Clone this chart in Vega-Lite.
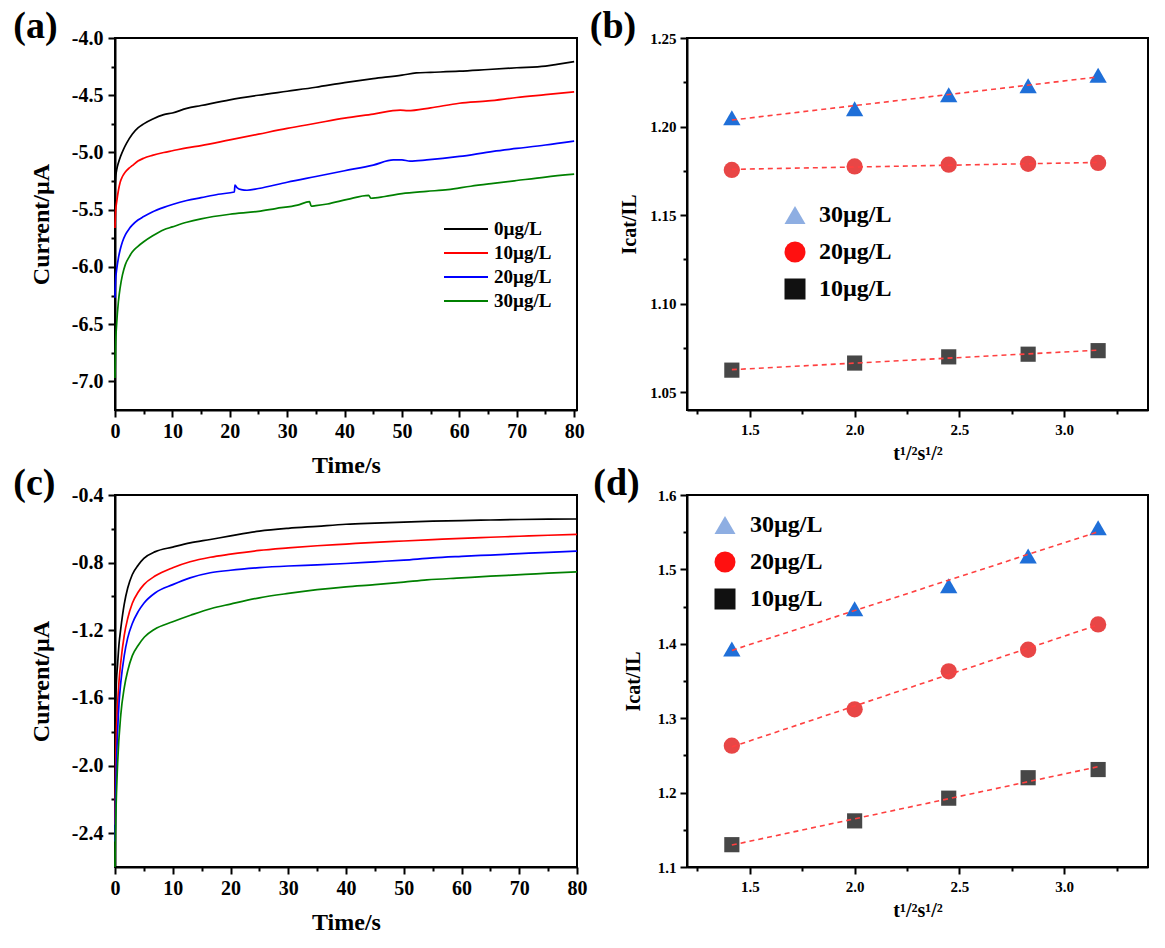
{
  "$schema": "https://vega.github.io/schema/vega-lite/v6.json",
  "background": "white",
  "padding": {"left": 12, "top": 7, "right": 5, "bottom": 5},
  "config": {
    "font": "Liberation Serif",
    "view": {"stroke": "black", "strokeWidth": 2},
    "axis": {"domainColor": "black", "domainWidth": 2, "tickColor": "black", "tickWidth": 2, "labelColor": "black", "titleColor": "black", "labelFont": "Liberation Serif", "titleFont": "Liberation Serif", "labelFontWeight": "bold", "titleFontWeight": "bold", "grid": false, "labelFlush": false, "labelOverlap": false},
    "legend": {"labelFont": "Liberation Serif", "labelFontWeight": "bold", "labelColor": "black", "padding": 0},
    "title": {"font": "Liberation Serif", "fontWeight": "bold", "color": "black", "fontSize": 38, "anchor": "start", "frame": "bounds", "baseline": "alphabetic"}
  },
  "datasets": {
    "a": [
      {"t":0,"v":-5.32,"s":"0µg/L"},{"t":0.15,"v":-5.2,"s":"0µg/L"},{"t":0.3,"v":-5.15,"s":"0µg/L"},{"t":0.6,"v":-5.09,"s":"0µg/L"},{"t":1.0,"v":-5.03,"s":"0µg/L"},{"t":1.5,"v":-4.97,"s":"0µg/L"},{"t":2.0,"v":-4.92,"s":"0µg/L"},{"t":3.0,"v":-4.84,"s":"0µg/L"},{"t":4.0,"v":-4.785,"s":"0µg/L"},{"t":5.0,"v":-4.75,"s":"0µg/L"},{"t":6.5,"v":-4.71,"s":"0µg/L"},{"t":8.5,"v":-4.67,"s":"0µg/L"},{"t":10,"v":-4.655,"s":"0µg/L"},{"t":12.5,"v":-4.615,"s":"0µg/L"},{"t":15,"v":-4.59,"s":"0µg/L"},{"t":20,"v":-4.54,"s":"0µg/L"},{"t":25,"v":-4.5,"s":"0µg/L"},{"t":30,"v":-4.465,"s":"0µg/L"},{"t":35,"v":-4.43,"s":"0µg/L"},{"t":40,"v":-4.39,"s":"0µg/L"},{"t":45,"v":-4.355,"s":"0µg/L"},{"t":50,"v":-4.325,"s":"0µg/L"},{"t":52.5,"v":-4.305,"s":"0µg/L"},{"t":55,"v":-4.3,"s":"0µg/L"},{"t":60,"v":-4.29,"s":"0µg/L"},{"t":65,"v":-4.275,"s":"0µg/L"},{"t":70,"v":-4.26,"s":"0µg/L"},{"t":75,"v":-4.245,"s":"0µg/L"},{"t":77,"v":-4.23,"s":"0µg/L"},{"t":80,"v":-4.206,"s":"0µg/L"},
      {"t":0,"v":-5.66,"s":"10µg/L"},{"t":0.1,"v":-5.52,"s":"10µg/L"},{"t":0.3,"v":-5.43,"s":"10µg/L"},{"t":0.6,"v":-5.33,"s":"10µg/L"},{"t":0.9,"v":-5.26,"s":"10µg/L"},{"t":1.3,"v":-5.21,"s":"10µg/L"},{"t":1.8,"v":-5.17,"s":"10µg/L"},{"t":2.5,"v":-5.135,"s":"10µg/L"},{"t":3.0,"v":-5.115,"s":"10µg/L"},{"t":4.0,"v":-5.075,"s":"10µg/L"},{"t":5.0,"v":-5.05,"s":"10µg/L"},{"t":6.5,"v":-5.025,"s":"10µg/L"},{"t":8.5,"v":-5.0,"s":"10µg/L"},{"t":10,"v":-4.985,"s":"10µg/L"},{"t":12.5,"v":-4.96,"s":"10µg/L"},{"t":15,"v":-4.94,"s":"10µg/L"},{"t":20,"v":-4.89,"s":"10µg/L"},{"t":25,"v":-4.84,"s":"10µg/L"},{"t":30,"v":-4.79,"s":"10µg/L"},{"t":35,"v":-4.745,"s":"10µg/L"},{"t":40,"v":-4.7,"s":"10µg/L"},{"t":45,"v":-4.665,"s":"10µg/L"},{"t":49.7,"v":-4.63,"s":"10µg/L"},{"t":51,"v":-4.635,"s":"10µg/L"},{"t":55,"v":-4.61,"s":"10µg/L"},{"t":60,"v":-4.57,"s":"10µg/L"},{"t":65,"v":-4.55,"s":"10µg/L"},{"t":70,"v":-4.52,"s":"10µg/L"},{"t":75,"v":-4.495,"s":"10µg/L"},{"t":80,"v":-4.47,"s":"10µg/L"},
      {"t":0,"v":-6.27,"s":"20µg/L"},{"t":0.1,"v":-6.12,"s":"20µg/L"},{"t":0.3,"v":-6.02,"s":"20µg/L"},{"t":0.6,"v":-5.92,"s":"20µg/L"},{"t":0.9,"v":-5.85,"s":"20µg/L"},{"t":1.3,"v":-5.78,"s":"20µg/L"},{"t":1.8,"v":-5.72,"s":"20µg/L"},{"t":2.5,"v":-5.665,"s":"20µg/L"},{"t":3.0,"v":-5.635,"s":"20µg/L"},{"t":4.0,"v":-5.59,"s":"20µg/L"},{"t":5.0,"v":-5.56,"s":"20µg/L"},{"t":6.5,"v":-5.52,"s":"20µg/L"},{"t":8.5,"v":-5.48,"s":"20µg/L"},{"t":10,"v":-5.455,"s":"20µg/L"},{"t":12.5,"v":-5.42,"s":"20µg/L"},{"t":15,"v":-5.395,"s":"20µg/L"},{"t":18,"v":-5.365,"s":"20µg/L"},{"t":20.8,"v":-5.345,"s":"20µg/L"},{"t":20.9,"v":-5.285,"s":"20µg/L"},{"t":21.3,"v":-5.31,"s":"20µg/L"},{"t":22,"v":-5.325,"s":"20µg/L"},{"t":23,"v":-5.33,"s":"20µg/L"},{"t":25,"v":-5.315,"s":"20µg/L"},{"t":30,"v":-5.26,"s":"20µg/L"},{"t":35,"v":-5.21,"s":"20µg/L"},{"t":40,"v":-5.16,"s":"20µg/L"},{"t":45,"v":-5.11,"s":"20µg/L"},{"t":48.5,"v":-5.065,"s":"20µg/L"},{"t":50,"v":-5.065,"s":"20µg/L"},{"t":51.4,"v":-5.075,"s":"20µg/L"},{"t":54.3,"v":-5.065,"s":"20µg/L"},{"t":60,"v":-5.035,"s":"20µg/L"},{"t":65.9,"v":-4.99,"s":"20µg/L"},{"t":70,"v":-4.965,"s":"20µg/L"},{"t":75,"v":-4.935,"s":"20µg/L"},{"t":80,"v":-4.9,"s":"20µg/L"},
      {"t":0,"v":-6.97,"s":"30µg/L"},{"t":0.1,"v":-6.7,"s":"30µg/L"},{"t":0.3,"v":-6.49,"s":"30µg/L"},{"t":0.6,"v":-6.3,"s":"30µg/L"},{"t":0.9,"v":-6.18,"s":"30µg/L"},{"t":1.3,"v":-6.07,"s":"30µg/L"},{"t":1.8,"v":-5.98,"s":"30µg/L"},{"t":2.5,"v":-5.91,"s":"30µg/L"},{"t":3.0,"v":-5.87,"s":"30µg/L"},{"t":4.0,"v":-5.82,"s":"30µg/L"},{"t":5.0,"v":-5.78,"s":"30µg/L"},{"t":6.5,"v":-5.73,"s":"30µg/L"},{"t":8.5,"v":-5.675,"s":"30µg/L"},{"t":10,"v":-5.65,"s":"30µg/L"},{"t":12.5,"v":-5.61,"s":"30µg/L"},{"t":15,"v":-5.58,"s":"30µg/L"},{"t":20,"v":-5.54,"s":"30µg/L"},{"t":25,"v":-5.515,"s":"30µg/L"},{"t":28,"v":-5.49,"s":"30µg/L"},{"t":31.8,"v":-5.46,"s":"30µg/L"},{"t":33.9,"v":-5.43,"s":"30µg/L"},{"t":34.2,"v":-5.47,"s":"30µg/L"},{"t":35,"v":-5.465,"s":"30µg/L"},{"t":37,"v":-5.45,"s":"30µg/L"},{"t":40.5,"v":-5.41,"s":"30µg/L"},{"t":44.2,"v":-5.375,"s":"30µg/L"},{"t":44.6,"v":-5.4,"s":"30µg/L"},{"t":47,"v":-5.385,"s":"30µg/L"},{"t":50,"v":-5.36,"s":"30µg/L"},{"t":54.3,"v":-5.34,"s":"30µg/L"},{"t":58,"v":-5.325,"s":"30µg/L"},{"t":62,"v":-5.295,"s":"30µg/L"},{"t":65.9,"v":-5.27,"s":"30µg/L"},{"t":70,"v":-5.245,"s":"30µg/L"},{"t":75,"v":-5.215,"s":"30µg/L"},{"t":80,"v":-5.19,"s":"30µg/L"}
    ],
    "c": [
      {"t":0,"v":-1.8,"s":"0µg/L"},{"t":0.1,"v":-1.65,"s":"0µg/L"},{"t":0.25,"v":-1.5,"s":"0µg/L"},{"t":0.45,"v":-1.4,"s":"0µg/L"},{"t":0.7,"v":-1.28,"s":"0µg/L"},{"t":1.0,"v":-1.19,"s":"0µg/L"},{"t":1.6,"v":-1.045,"s":"0µg/L"},{"t":2.2,"v":-0.95,"s":"0µg/L"},{"t":3.0,"v":-0.87,"s":"0µg/L"},{"t":4.0,"v":-0.815,"s":"0µg/L"},{"t":5.0,"v":-0.775,"s":"0µg/L"},{"t":7,"v":-0.735,"s":"0µg/L"},{"t":10,"v":-0.708,"s":"0µg/L"},{"t":13,"v":-0.683,"s":"0µg/L"},{"t":16.5,"v":-0.663,"s":"0µg/L"},{"t":20,"v":-0.642,"s":"0µg/L"},{"t":25,"v":-0.614,"s":"0µg/L"},{"t":30,"v":-0.597,"s":"0µg/L"},{"t":35,"v":-0.585,"s":"0µg/L"},{"t":40,"v":-0.573,"s":"0µg/L"},{"t":45,"v":-0.566,"s":"0µg/L"},{"t":50,"v":-0.56,"s":"0µg/L"},{"t":55,"v":-0.555,"s":"0µg/L"},{"t":60,"v":-0.551,"s":"0µg/L"},{"t":65,"v":-0.548,"s":"0µg/L"},{"t":70,"v":-0.545,"s":"0µg/L"},{"t":75,"v":-0.543,"s":"0µg/L"},{"t":80,"v":-0.542,"s":"0µg/L"},
      {"t":0,"v":-2.35,"s":"10µg/L"},{"t":0.1,"v":-2.05,"s":"10µg/L"},{"t":0.2,"v":-1.86,"s":"10µg/L"},{"t":0.45,"v":-1.64,"s":"10µg/L"},{"t":0.7,"v":-1.5,"s":"10µg/L"},{"t":1.0,"v":-1.39,"s":"10µg/L"},{"t":1.6,"v":-1.23,"s":"10µg/L"},{"t":2.2,"v":-1.13,"s":"10µg/L"},{"t":3.0,"v":-1.04,"s":"10µg/L"},{"t":4.0,"v":-0.975,"s":"10µg/L"},{"t":5.0,"v":-0.93,"s":"10µg/L"},{"t":7,"v":-0.878,"s":"10µg/L"},{"t":10,"v":-0.83,"s":"10µg/L"},{"t":13,"v":-0.795,"s":"10µg/L"},{"t":16.5,"v":-0.768,"s":"10µg/L"},{"t":20,"v":-0.75,"s":"10µg/L"},{"t":25,"v":-0.728,"s":"10µg/L"},{"t":30,"v":-0.713,"s":"10µg/L"},{"t":35,"v":-0.7,"s":"10µg/L"},{"t":40,"v":-0.69,"s":"10µg/L"},{"t":45,"v":-0.68,"s":"10µg/L"},{"t":50,"v":-0.672,"s":"10µg/L"},{"t":55,"v":-0.664,"s":"10µg/L"},{"t":60,"v":-0.656,"s":"10µg/L"},{"t":65,"v":-0.65,"s":"10µg/L"},{"t":70,"v":-0.644,"s":"10µg/L"},{"t":75,"v":-0.638,"s":"10µg/L"},{"t":80,"v":-0.633,"s":"10µg/L"},
      {"t":0,"v":-2.45,"s":"20µg/L"},{"t":0.1,"v":-2.2,"s":"20µg/L"},{"t":0.2,"v":-2.05,"s":"20µg/L"},{"t":0.45,"v":-1.8,"s":"20µg/L"},{"t":0.7,"v":-1.63,"s":"20µg/L"},{"t":1.0,"v":-1.51,"s":"20µg/L"},{"t":1.6,"v":-1.35,"s":"20µg/L"},{"t":2.2,"v":-1.245,"s":"20µg/L"},{"t":3.0,"v":-1.16,"s":"20µg/L"},{"t":4.0,"v":-1.09,"s":"20µg/L"},{"t":5.0,"v":-1.04,"s":"20µg/L"},{"t":7,"v":-0.978,"s":"20µg/L"},{"t":10,"v":-0.93,"s":"20µg/L"},{"t":13,"v":-0.89,"s":"20µg/L"},{"t":16.5,"v":-0.86,"s":"20µg/L"},{"t":20,"v":-0.845,"s":"20µg/L"},{"t":25,"v":-0.83,"s":"20µg/L"},{"t":30,"v":-0.82,"s":"20µg/L"},{"t":35,"v":-0.813,"s":"20µg/L"},{"t":40,"v":-0.805,"s":"20µg/L"},{"t":45,"v":-0.795,"s":"20µg/L"},{"t":50,"v":-0.785,"s":"20µg/L"},{"t":55,"v":-0.772,"s":"20µg/L"},{"t":60,"v":-0.763,"s":"20µg/L"},{"t":65,"v":-0.755,"s":"20µg/L"},{"t":70,"v":-0.747,"s":"20µg/L"},{"t":75,"v":-0.739,"s":"20µg/L"},{"t":80,"v":-0.732,"s":"20µg/L"},
      {"t":0,"v":-2.6,"s":"30µg/L"},{"t":0.05,"v":-2.45,"s":"30µg/L"},{"t":0.15,"v":-2.29,"s":"30µg/L"},{"t":0.45,"v":-1.99,"s":"30µg/L"},{"t":1.0,"v":-1.7,"s":"30µg/L"},{"t":1.6,"v":-1.54,"s":"30µg/L"},{"t":2.2,"v":-1.44,"s":"30µg/L"},{"t":3.0,"v":-1.35,"s":"30µg/L"},{"t":4.0,"v":-1.29,"s":"30µg/L"},{"t":5.1,"v":-1.24,"s":"30µg/L"},{"t":6.8,"v":-1.195,"s":"30µg/L"},{"t":10,"v":-1.15,"s":"30µg/L"},{"t":13.2,"v":-1.11,"s":"30µg/L"},{"t":16.7,"v":-1.071,"s":"30µg/L"},{"t":20,"v":-1.045,"s":"30µg/L"},{"t":25,"v":-1.008,"s":"30µg/L"},{"t":30,"v":-0.982,"s":"30µg/L"},{"t":35,"v":-0.96,"s":"30µg/L"},{"t":40,"v":-0.943,"s":"30µg/L"},{"t":45,"v":-0.93,"s":"30µg/L"},{"t":50,"v":-0.915,"s":"30µg/L"},{"t":54,"v":-0.902,"s":"30µg/L"},{"t":60,"v":-0.89,"s":"30µg/L"},{"t":65,"v":-0.88,"s":"30µg/L"},{"t":71,"v":-0.87,"s":"30µg/L"},{"t":75,"v":-0.862,"s":"30µg/L"},{"t":80,"v":-0.854,"s":"30µg/L"}
    ],
    "b": [
      {"x":1.414,"y":1.205,"c":"30µg/L"},{"x":2.0,"y":1.21,"c":"30µg/L"},{"x":2.449,"y":1.218,"c":"30µg/L"},{"x":2.828,"y":1.223,"c":"30µg/L"},{"x":3.162,"y":1.229,"c":"30µg/L"},
      {"x":1.414,"y":1.1755,"c":"20µg/L"},{"x":2.0,"y":1.1775,"c":"20µg/L"},{"x":2.449,"y":1.1785,"c":"20µg/L"},{"x":2.828,"y":1.179,"c":"20µg/L"},{"x":3.162,"y":1.1795,"c":"20µg/L"},
      {"x":1.414,"y":1.0625,"c":"10µg/L"},{"x":2.0,"y":1.0665,"c":"10µg/L"},{"x":2.449,"y":1.07,"c":"10µg/L"},{"x":2.828,"y":1.0715,"c":"10µg/L"},{"x":3.162,"y":1.0735,"c":"10µg/L"}
    ],
    "d": [
      {"x":1.414,"y":1.393,"c":"30µg/L"},{"x":2.0,"y":1.447,"c":"30µg/L"},{"x":2.449,"y":1.478,"c":"30µg/L"},{"x":2.828,"y":1.518,"c":"30µg/L"},{"x":3.162,"y":1.556,"c":"30µg/L"},
      {"x":1.414,"y":1.263,"c":"20µg/L"},{"x":2.0,"y":1.312,"c":"20µg/L"},{"x":2.449,"y":1.363,"c":"20µg/L"},{"x":2.828,"y":1.392,"c":"20µg/L"},{"x":3.162,"y":1.426,"c":"20µg/L"},
      {"x":1.414,"y":1.13,"c":"10µg/L"},{"x":2.0,"y":1.162,"c":"10µg/L"},{"x":2.449,"y":1.1925,"c":"10µg/L"},{"x":2.828,"y":1.22,"c":"10µg/L"},{"x":3.162,"y":1.231,"c":"10µg/L"}
    ]
  },
  "columns": 2,
  "bounds": "flush",
  "spacing": {"row": 85, "column": 110},
  "concat": [
    {
      "width": 462, "height": 372,
      "title": {"text": "(a)", "offset": -18, "dx": -16},
      "data": {"name": "a"},
      "mark": {"type": "line", "strokeWidth": 1.7, "interpolate": "monotone"},
      "encoding": {
        "x": {"field": "t", "type": "quantitative", "scale": {"domain": [0, 80.5], "nice": false, "zero": false},
          "axis": {"values": [0,5,10,15,20,25,30,35,40,45,50,55,60,65,70,75,80], "labelExpr": "datum.value % 10 === 0 ? datum.label : ''", "tickSize": {"condition": {"test": "datum.value % 10 === 0", "value": 7}, "value": 4}, "labelFontSize": 20, "labelPadding": 4, "title": "Time/s", "titleFontSize": 24, "titlePadding": 12}},
        "y": {"field": "v", "type": "quantitative", "scale": {"domain": [-7.25, -4.0], "nice": false, "zero": false},
          "axis": {"values": [-7,-6.75,-6.5,-6.25,-6,-5.75,-5.5,-5.25,-5,-4.75,-4.5,-4.25,-4], "labelExpr": "abs(datum.value*2 - round(datum.value*2)) < 0.001 ? replace(format(datum.value, '.1f'), '\u2212', '-') : ''", "tickSize": {"condition": {"test": "abs(datum.value*2 - round(datum.value*2)) < 0.001", "value": 7}, "value": 4}, "labelFontSize": 20, "labelPadding": 5, "title": "Current/µA", "titleFontSize": 24, "titlePadding": 18}},
        "color": {"field": "s", "type": "nominal", "scale": {"domain": ["0µg/L","10µg/L","20µg/L","30µg/L"], "range": ["#000000","#ff0000","#0000ff","#008000"]},
          "legend": {"title": null, "orient": "none", "legendX": 339, "legendY": 179, "symbolType": "M-2,0H2", "symbolSize": 484, "symbolStrokeWidth": 2, "labelFontSize": 19, "labelOffset": 16, "rowPadding": 2}}
      }
    },
    {
      "width": 461, "height": 372,
      "title": {"text": "(b)", "offset": -15, "dx": -30},
      "data": {"name": "b"},
      "encoding": {
        "x": {"field": "x", "type": "quantitative", "scale": {"domain": [1.2, 3.4], "nice": false, "zero": false},
          "axis": {"values": [1.25,1.5,1.75,2,2.25,2.5,2.75,3,3.25], "labelExpr": "abs(datum.value*2 - round(datum.value*2)) < 0.001 ? format(datum.value, '.1f') : ''", "tickSize": {"condition": {"test": "abs(datum.value*2 - round(datum.value*2)) < 0.001", "value": 7}, "value": 4}, "labelFontSize": 15, "labelPadding": 5, "title": "t¹/²s¹/²", "titleFontSize": 20, "titlePadding": 6}},
        "y": {"field": "y", "type": "quantitative", "scale": {"domain": [1.04, 1.25], "nice": false, "zero": false},
          "axis": {"values": [1.05,1.075,1.1,1.125,1.15,1.175,1.2,1.225,1.25], "labelExpr": "abs(datum.value*20 - round(datum.value*20)) < 0.001 ? format(datum.value, '.2f') : ''", "tickSize": {"condition": {"test": "abs(datum.value*20 - round(datum.value*20)) < 0.001", "value": 7}, "value": 4}, "labelFontSize": 15, "labelPadding": 4, "title": "Icat/IL", "titleFontSize": 20, "titlePadding": 10}}
      },
      "resolve": {"scale": {"shape": "independent", "color": "independent"}},
      "layer": [
        {
          "mark": {"type": "point", "filled": true, "opacity": 1},
          "encoding": {
            "shape": {"field": "c", "type": "nominal", "scale": {"domain": ["30µg/L","20µg/L","10µg/L"], "range": ["triangle-up","circle","square"]}, "legend": null},
            "fill": {"field": "c", "type": "nominal", "scale": {"domain": ["30µg/L","20µg/L","10µg/L"], "range": ["#1f6fd8","#e84646","#474747"]}, "legend": null},
            "size": {"field": "c", "type": "nominal", "scale": {"domain": ["30µg/L","20µg/L","10µg/L"], "range": [300, 230, 180]}, "legend": null}
          }
        },
        {
          "mark": {"type": "point", "filled": true, "opacity": 0},
          "encoding": {
            "shape": {"field": "c", "type": "nominal", "scale": {"domain": ["30µg/L","20µg/L","10µg/L"], "range": ["triangle-up","circle","square"]}, "legend": {"title": null, "orient": "none", "legendX": 96, "legendY": 165, "symbolSize": 441, "symbolOpacity": 1, "symbolStrokeWidth": 0, "labelFontSize": 24, "labelOffset": 12, "rowPadding": 13}},
            "color": {"field": "c", "type": "nominal", "scale": {"domain": ["30µg/L","20µg/L","10µg/L"], "range": ["#8eaee2","#ff1010","#111111"]}, "legend": {"title": null, "orient": "none", "legendX": 96, "legendY": 165, "symbolSize": 441, "symbolOpacity": 1, "symbolStrokeWidth": 0, "labelFontSize": 24, "labelOffset": 12, "rowPadding": 13}}
          }
        },
        {
          "transform": [{"regression": "y", "on": "x", "groupby": ["c"]}],
          "mark": {"type": "line", "color": "#ff4040", "strokeWidth": 1.6, "strokeDash": [5, 4]},
          "encoding": {"detail": {"field": "c", "type": "nominal"}}
        }
      ]
    },
    {
      "width": 462, "height": 372,
      "title": {"text": "(c)", "offset": -18, "dx": -16},
      "data": {"name": "c"},
      "mark": {"type": "line", "strokeWidth": 1.7, "interpolate": "monotone"},
      "encoding": {
        "x": {"field": "t", "type": "quantitative", "scale": {"domain": [0, 80], "nice": false, "zero": false},
          "axis": {"values": [0,5,10,15,20,25,30,35,40,45,50,55,60,65,70,75,80], "labelExpr": "datum.value % 10 === 0 ? datum.label : ''", "tickSize": {"condition": {"test": "datum.value % 10 === 0", "value": 7}, "value": 4}, "labelFontSize": 20, "labelPadding": 4, "title": "Time/s", "titleFontSize": 24, "titlePadding": 12}},
        "y": {"field": "v", "type": "quantitative", "scale": {"domain": [-2.6, -0.4], "nice": false, "zero": false},
          "axis": {"values": [-2.4,-2.2,-2.0,-1.8,-1.6,-1.4,-1.2,-1.0,-0.8,-0.6,-0.4], "labelExpr": "abs((datum.value+0.4)/0.4 - round((datum.value+0.4)/0.4)) < 0.001 ? replace(format(datum.value, '.1f'), '\u2212', '-') : ''", "tickSize": {"condition": {"test": "abs((datum.value+0.4)/0.4 - round((datum.value+0.4)/0.4)) < 0.001", "value": 7}, "value": 4}, "labelFontSize": 20, "labelPadding": 5, "title": "Current/µA", "titleFontSize": 24, "titlePadding": 18}},
        "color": {"field": "s", "type": "nominal", "scale": {"domain": ["0µg/L","10µg/L","20µg/L","30µg/L"], "range": ["#000000","#ff0000","#0000ff","#008000"]},
          "legend": {"title": null, "orient": "none", "legendX": 339, "legendY": 181, "symbolType": "M-2,0H2", "symbolSize": 484, "symbolStrokeWidth": 2, "labelFontSize": 19, "labelOffset": 16, "rowPadding": 2}}
      }
    },
    {
      "width": 461, "height": 372,
      "title": {"text": "(d)", "offset": -15, "dx": -30},
      "data": {"name": "d"},
      "encoding": {
        "x": {"field": "x", "type": "quantitative", "scale": {"domain": [1.2, 3.4], "nice": false, "zero": false},
          "axis": {"values": [1.25,1.5,1.75,2,2.25,2.5,2.75,3,3.25], "labelExpr": "abs(datum.value*2 - round(datum.value*2)) < 0.001 ? format(datum.value, '.1f') : ''", "tickSize": {"condition": {"test": "abs(datum.value*2 - round(datum.value*2)) < 0.001", "value": 7}, "value": 4}, "labelFontSize": 15, "labelPadding": 5, "title": "t¹/²s¹/²", "titleFontSize": 20, "titlePadding": 6}},
        "y": {"field": "y", "type": "quantitative", "scale": {"domain": [1.1, 1.6], "nice": false, "zero": false},
          "axis": {"values": [1.1,1.15,1.2,1.25,1.3,1.35,1.4,1.45,1.5,1.55,1.6], "labelExpr": "abs(datum.value*10 - round(datum.value*10)) < 0.001 ? format(datum.value, '.1f') : ''", "tickSize": {"condition": {"test": "abs(datum.value*10 - round(datum.value*10)) < 0.001", "value": 7}, "value": 4}, "labelFontSize": 15, "labelPadding": 4, "title": "Icat/IL", "titleFontSize": 20, "titlePadding": 14}}
      },
      "resolve": {"scale": {"shape": "independent", "color": "independent"}},
      "layer": [
        {
          "mark": {"type": "point", "filled": true, "opacity": 1},
          "encoding": {
            "shape": {"field": "c", "type": "nominal", "scale": {"domain": ["30µg/L","20µg/L","10µg/L"], "range": ["triangle-up","circle","square"]}, "legend": null},
            "fill": {"field": "c", "type": "nominal", "scale": {"domain": ["30µg/L","20µg/L","10µg/L"], "range": ["#1f6fd8","#e84646","#474747"]}, "legend": null},
            "size": {"field": "c", "type": "nominal", "scale": {"domain": ["30µg/L","20µg/L","10µg/L"], "range": [330, 270, 190]}, "legend": null}
          }
        },
        {
          "mark": {"type": "point", "filled": true, "opacity": 0},
          "encoding": {
            "shape": {"field": "c", "type": "nominal", "scale": {"domain": ["30µg/L","20µg/L","10µg/L"], "range": ["triangle-up","circle","square"]}, "legend": {"title": null, "orient": "none", "legendX": 26, "legendY": 18, "symbolSize": 441, "symbolOpacity": 1, "symbolStrokeWidth": 0, "labelFontSize": 24, "labelOffset": 13, "rowPadding": 13}},
            "color": {"field": "c", "type": "nominal", "scale": {"domain": ["30µg/L","20µg/L","10µg/L"], "range": ["#8eaee2","#ff1010","#111111"]}, "legend": {"title": null, "orient": "none", "legendX": 26, "legendY": 18, "symbolSize": 441, "symbolOpacity": 1, "symbolStrokeWidth": 0, "labelFontSize": 24, "labelOffset": 13, "rowPadding": 13}}
          }
        },
        {
          "transform": [{"regression": "y", "on": "x", "groupby": ["c"]}],
          "mark": {"type": "line", "color": "#ff4040", "strokeWidth": 1.6, "strokeDash": [5, 4]},
          "encoding": {"detail": {"field": "c", "type": "nominal"}}
        }
      ]
    }
  ]
}
